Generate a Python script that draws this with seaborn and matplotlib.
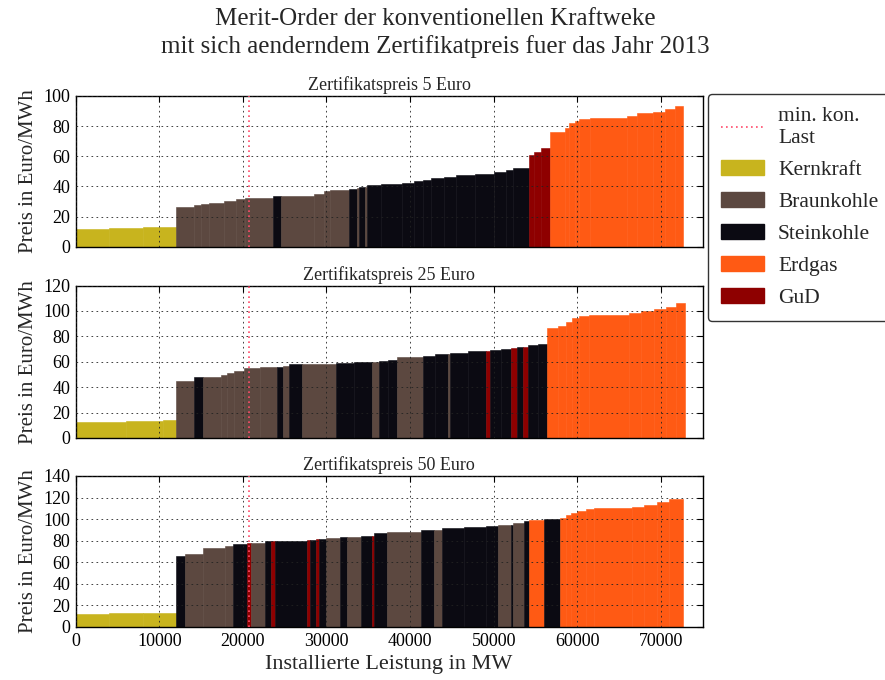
import numpy as np
import matplotlib
matplotlib.use("Agg")
import matplotlib.pyplot as plt
import seaborn as sns
from matplotlib.patches import Patch
from matplotlib.lines import Line2D

# ---- data: power plant blocks in merit order (capacity MW, price EUR/MWh, fuel) ----
fuel_names = ["Kernkraft", "Braunkohle", "Steinkohle", "Erdgas", "GuD"]
fuel_colors = {"Kernkraft": "#c8b41e", "Braunkohle": "#5c4840", "Steinkohle": "#0b0a12",
               "Erdgas": "#ff5a14", "GuD": "#8e0000"}
min_load = 20700  # minimal conventional load, MW

K, B, S, E, G = fuel_names

# Zertifikatspreis 5 Euro
cap_5 = [4000, 4000, 4000,
         2100, 900, 1000, 1800, 1400, 1000, 3360,
         1040,
         3900, 1200, 700, 2300,
         1000, 200, 700, 300,
         1600, 2500, 1500, 1100, 900, 1500, 1500, 2300, 2200, 1500, 800, 1950,
         550, 900, 1060,
         1740, 500, 700, 500, 1300, 4500, 1200, 1800, 1500, 1200, 1000]
price_5 = [12.0, 12.5, 13.0,
           26.2, 27.5, 28.5, 29.0, 30.5, 31.8, 32.5,
           34.0,
           34.0, 35.0, 36.8, 37.8,
           38.5, 38.8, 39.5, 39.8,
           41.0, 41.5, 42.5, 43.5, 44.5, 45.5, 46.5, 47.5, 48.5, 49.5, 51.0, 52.3,
           60.8, 63.0, 65.5,
           76.2, 78.5, 82.0, 83.5, 84.5, 85.5, 86.5, 88.5, 89.5, 91.5, 93.5]
fuel_5 = [K] * 3 + [B] * 7 + [S] + [B] * 4 + [S, B, S, B] + [S] * 12 + [G] * 3 + [E] * 11

# Zertifikatspreis 25 Euro
cap_25 = [6000, 4500, 1500,
          2100,
          1140,
          2160, 700, 800, 1200, 1900, 2120,
          720,
          680,
          1600,
          4000,
          2200, 2160,
          820,
          1100, 1000,
          3100,
          1500, 1500,
          250,
          2150, 2150,
          530,
          1300, 1250,
          640,
          680,
          600,
          1200, 1150,
          1260, 1000, 700, 800, 1200, 4800, 1500, 1500, 1500, 1200, 1000]
price_25 = [12.8, 13.2, 14.0,
            44.7,
            48.2,
            48.2, 49.5, 51.5, 53.0, 55.0, 55.5,
            56.0,
            57.0,
            58.4,
            58.4,
            58.8, 59.5,
            60.0,
            60.5, 61.3,
            63.5,
            64.5, 66.0,
            66.2,
            67.2, 68.4,
            68.4,
            69.0, 70.0,
            71.0,
            71.8,
            72.0,
            73.0, 74.0,
            86.8, 88.4, 91.6, 94.7, 96.0, 97.0, 98.5, 100.0, 101.5, 103.5, 106.0]
fuel_25 = ([K] * 3 + [B] + [S] + [B] * 6 + [S] + [B] + [S] + [B] + [S] * 2 + [B]
           + [S] * 2 + [B] + [S] * 2 + [B] + [S] * 2 + [G] + [S] * 2 + [G] + [S]
           + [G] + [S] * 2 + [E] * 11)

# Zertifikatspreis 50 Euro
cap_50 = [4000, 4000, 4000,
          1040,
          2200, 2680, 920,
          1680,
          480,
          1600,
          800,
          400,
          3920,
          320,
          680,
          400,
          800,
          1720,
          800,
          1680,
          1280,
          320,
          1480,
          4080,
          1600,
          880,
          2640, 2680,
          1400,
          1600,
          200,
          1400,
          600,
          1720,
          1960,
          720,
          620, 700, 1000, 1000, 4500, 1500, 1500, 1500, 1700]
price_50 = [12.0, 12.5, 13.2,
            65.7,
            67.5, 72.8, 75.3,
            77.1,
            77.7,
            78.0,
            79.3,
            79.5,
            80.0,
            80.5,
            81.0,
            81.3,
            82.0,
            82.7,
            83.0,
            83.6,
            84.0,
            84.3,
            86.7,
            88.3,
            89.8,
            89.8,
            92.0, 92.9,
            93.9,
            94.5,
            95.0,
            96.0,
            98.5,
            99.2,
            100.0,
            100.6,
            103.5, 106.0, 108.0, 109.5, 110.0, 111.0, 113.5, 115.5, 119.0]
fuel_50 = ([K] * 3 + [S] + [B] * 3 + [S] + [G] + [B] + [S] + [G] + [S] + [G] + [S]
           + [G] + [S] + [B] + [S] + [B] + [S] + [G] + [S] + [B] + [S] + [B]
           + [S] * 2 + [S] + [B] + [S] + [B] + [S] + [E] + [S] + [E] + [E] * 9)

panels = [("Zertifikatspreis 5 Euro", cap_5, price_5, fuel_5, 100),
          ("Zertifikatspreis 25 Euro", cap_25, price_25, fuel_25, 120),
          ("Zertifikatspreis 50 Euro", cap_50, price_50, fuel_50, 140)]

# ---- styling ----
sns.set_theme(style="white")
plt.rcParams["font.family"] = ["Liberation Serif", "DejaVu Serif"]

fig = plt.figure(figsize=(8.85, 6.8), dpi=100)
left, right = 0.0855, 0.794
boxes = [(0.637, 0.859), (0.356, 0.580), (0.078, 0.300)]
line_red = "#ff4a6a"

for i, ((title, cap, price, fuel, ymax), (b, t)) in enumerate(zip(panels, boxes)):
    ax = fig.add_axes([left, b, right - left, t - b])
    cap = np.asarray(cap, dtype=float)
    lefts = np.concatenate([[0.0], np.cumsum(cap)[:-1]])
    cols = [fuel_colors[f] for f in fuel]
    ax.bar(lefts, price, width=cap, align="edge", color=cols, edgecolor=cols,
           linewidth=0.4, zorder=1)
    ax.axvline(min_load, color=line_red, linestyle=(0, (1, 2)), linewidth=1.2, zorder=3)

    ax.set_xlim(0, 75000)
    ax.set_ylim(0, ymax)
    ax.set_xticks(np.arange(0, 70001, 10000))
    ax.set_yticks(np.arange(0, ymax + 1, 20))
    ax.set_axisbelow(False)
    ax.grid(True, color="#222222", linestyle=(0, (2, 4)), linewidth=0.6, zorder=2)
    ax.tick_params(direction="in", top=True, right=True, length=4, width=0.8,
                   labelsize=13, pad=4, colors="black")
    for sp in ax.spines.values():
        sp.set_color("black")
        sp.set_linewidth(1.0)
    ax.set_ylabel("Preis in Euro/MWh", fontsize=15, labelpad=4)
    ax.set_title(title, fontsize=13, pad=4)
    if i < 2:
        ax.set_xticklabels([])
    else:
        ax.set_xlabel("Installierte Leistung in MW", fontsize=16, labelpad=4)

fig.suptitle("Merit-Order der konventionellen Kraftweke\n"
             "mit sich aenderndem Zertifikatpreis fuer das Jahr 2013",
             fontsize=18, x=0.492, y=0.988, linespacing=1.25)

handles = [Line2D([0], [0], color=line_red, linestyle=(0, (1, 2)), linewidth=1.2)]
handles += [Patch(facecolor=fuel_colors[f], edgecolor=fuel_colors[f]) for f in fuel_names]
labels = ["min. kon.\nLast"] + fuel_names
leg = fig.legend(handles, labels, loc="upper left", bbox_to_anchor=(0.800, 0.862),
                 borderaxespad=0.0, fontsize=15.5, frameon=True, fancybox=True,
                 handlelength=2.0, handleheight=0.7, labelspacing=0.56,
                 borderpad=0.6, handletextpad=0.65)
leg.get_frame().set_edgecolor("black")
leg.get_frame().set_linewidth(1.0)

fig.savefig("out.png", dpi=100)
